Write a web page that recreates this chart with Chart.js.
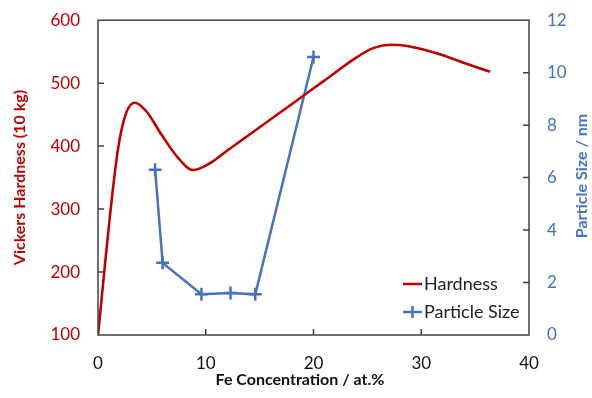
<!DOCTYPE html>
<html>
<head>
<meta charset="utf-8">
<script src="https://cdn.jsdelivr.net/npm/chart.js@4.4.0/dist/chart.umd.min.js"></script>
<style>
  html, body { margin: 0; padding: 0; background: #fff; }
  #wrap { width: 592px; height: 398px; }
</style>
</head>
<body>
<div id="wrap"><canvas id="myChart" width="592" height="398"></canvas></div>
<script>
// values
const hardnessX = [0, 1.3, 1.9, 2.6, 3.4, 4.5, 5.9, 7.4, 8.8, 10.3, 12.0, 15.0, 18.0, 21.0, 24.0, 25.6, 27.2, 28.7, 31.5, 34.0, 36.4];
const hardnessY = [100, 319, 400, 452, 469, 455, 418, 382, 362, 372, 393, 430, 467, 504, 541, 556, 561, 559, 547, 532, 518];
const sizeX = [5.3, 6.0, 9.6, 12.3, 14.6, 20.0];
const sizeY = [6.3, 2.75, 1.55, 1.6, 1.55, 10.6];
const xTicks = [0, 10, 20, 30, 40];
const leftTicks = [100, 200, 300, 400, 500, 600];
const rightTicks = [0, 2, 4, 6, 8, 10, 12];

const RED = '#C00000';
const BLUE = '#4472C4';
const FONT = 'Lato';

function pts(xs, ys) {
  return xs.map((x, i) => ({ x: x, y: ys[i] }));
}

// frame + inside tick marks
const framePlugin = {
  id: 'frame',
  afterDraw(chart) {
    const ctx = chart.ctx;
    const a = chart.chartArea;
    const s = chart.scales;
    const len = 6;
    ctx.save();
    ctx.strokeStyle = '#404040';
    ctx.lineWidth = 1.5;
    ctx.strokeRect(a.left, a.top, a.right - a.left, a.bottom - a.top);
    ctx.beginPath();
    xTicks.slice(1, -1).forEach(v => {
      const px = s.x.getPixelForValue(v);
      ctx.moveTo(px, a.bottom);
      ctx.lineTo(px, a.bottom - len);
    });
    leftTicks.slice(1, -1).forEach(v => {
      const py = s.y.getPixelForValue(v);
      ctx.moveTo(a.left, py);
      ctx.lineTo(a.left + len, py);
    });
    rightTicks.slice(1, -1).forEach(v => {
      const py = s.y1.getPixelForValue(v);
      ctx.moveTo(a.right, py);
      ctx.lineTo(a.right - len, py);
    });
    ctx.stroke();
    ctx.restore();
  }
};

// x title and right title (reads bottom to top like the left one)
const titlesPlugin = {
  id: 'titles',
  afterDraw(chart) {
    const ctx = chart.ctx;
    ctx.save();
    ctx.font = 'bold 16px ' + FONT;
    ctx.textAlign = 'center';
    ctx.textBaseline = 'middle';
    ctx.fillStyle = '#111';
    ctx.fillText('Fe Concentration / at.%', 300, 380);
    ctx.translate(582, 176);
    ctx.rotate(-Math.PI / 2);
    ctx.fillStyle = BLUE;
    ctx.fillText('Particle Size / nm', 0, 0);
    ctx.restore();
  }
};

// legend inside the plot, bottom right
const legendPlugin = {
  id: 'insideLegend',
  afterDraw(chart) {
    const ctx = chart.ctx;
    const x0 = 403, x1 = 422;
    ctx.save();
    ctx.font = '18px ' + FONT;
    ctx.textBaseline = 'middle';
    ctx.fillStyle = '#222';
    ctx.strokeStyle = RED;
    ctx.lineWidth = 2.5;
    ctx.beginPath();
    ctx.moveTo(x0, 284); ctx.lineTo(x1, 284);
    ctx.stroke();
    ctx.fillText('Hardness', 424, 284);
    ctx.strokeStyle = BLUE;
    ctx.beginPath();
    ctx.moveTo(x0, 312); ctx.lineTo(x1, 312);
    ctx.moveTo((x0 + x1) / 2, 306); ctx.lineTo((x0 + x1) / 2, 318);
    ctx.stroke();
    ctx.fillText('Particle Size', 424, 312);
    ctx.restore();
  }
};

const ctx = document.getElementById('myChart').getContext('2d');
const myChart = new Chart(ctx, {
  type: 'scatter',
  data: {
    datasets: [{
      label: 'Hardness',
      data: pts(hardnessX, hardnessY),
      yAxisID: 'y',
      showLine: true,
      borderColor: RED,
      borderWidth: 2.6,
      pointRadius: 0,
      cubicInterpolationMode: 'monotone'
    }, {
      label: 'Particle Size',
      data: pts(sizeX, sizeY),
      yAxisID: 'y1',
      showLine: true,
      borderColor: BLUE,
      backgroundColor: BLUE,
      borderWidth: 2.5,
      pointStyle: 'cross',
      pointRadius: 6.5,
      pointBorderWidth: 2.5,
      tension: 0
    }]
  },
  options: {
    responsive: false,
    animation: false,
    layout: { padding: { top: 4, left: 0, right: 0, bottom: 0 } },
    scales: {
      x: {
        type: 'linear',
        min: 0, max: 40,
        afterBuildTicks: (s) => { s.ticks = xTicks.map(v => ({ value: v })); },
        afterFit: (s) => { s.height = 63; },
        grid: { display: false },
        border: { display: false },
        ticks: { color: '#111', padding: 10, font: { family: FONT, size: 17 } },
        title: { display: false }
      },
      y: {
        position: 'left',
        min: 100, max: 600,
        afterBuildTicks: (s) => { s.ticks = leftTicks.map(v => ({ value: v })); },
        afterFit: (s) => { s.width = 98; },
        grid: { display: false },
        border: { display: false },
        ticks: { color: RED, padding: 10, font: { family: FONT, size: 17 } },
        title: {
          display: true,
          text: 'Vickers Hardness (10 kg)',
          color: RED,
          padding: { top: 10 },
          font: { family: FONT, size: 16, weight: 'bold' }
        }
      },
      y1: {
        position: 'right',
        min: 0, max: 12,
        afterBuildTicks: (s) => { s.ticks = rightTicks.map(v => ({ value: v })); },
        afterFit: (s) => { s.width = 63; },
        grid: { display: false },
        border: { display: false },
        ticks: { color: BLUE, padding: 10, font: { family: FONT, size: 17 } },
        title: { display: false }
      }
    },
    plugins: {
      legend: { display: false },
      tooltip: { enabled: false }
    }
  },
  plugins: [framePlugin, titlesPlugin, legendPlugin]
});
</script>
</body>
</html>
